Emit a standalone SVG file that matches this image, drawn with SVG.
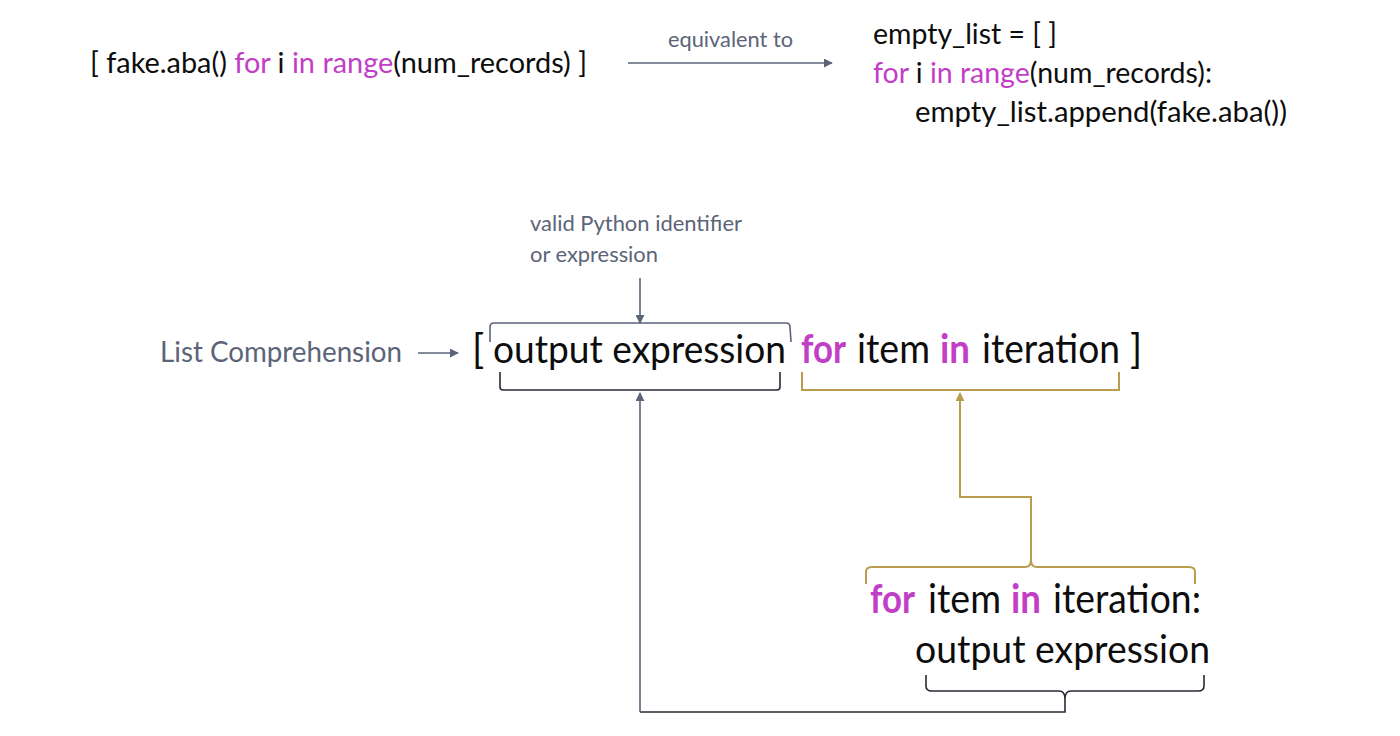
<svg xmlns="http://www.w3.org/2000/svg" width="1400" height="736" viewBox="0 0 1400 736">
<style>
  text { font-family: Lato, "Open Sans", "Liberation Sans", sans-serif; fill: #0d0d0d; }
  .code { font-size: 29px; }
  .main { font-size: 40px; }
  .out { font-size: 38px; }
  .note { font-size: 22px; fill: #5b6478; }
  .label { font-size: 29px; fill: #5b6478; }
  .kw { fill: #c23ec6; }
  .kwb { fill: #c23ec6; font-weight: bold; }
  .gray { fill: none; stroke: #5b6478; stroke-width: 1.6; }
  .dark { fill: none; stroke: #262b36; stroke-width: 1.6; }
  .gold { fill: none; stroke: #b99c4c; stroke-width: 2; }
</style>
<defs>
  <marker id="ag" viewBox="0 0 10 10" refX="9" refY="5" markerWidth="9" markerHeight="9" markerUnits="userSpaceOnUse" orient="auto">
    <path d="M0,0 L10,5 L0,10 z" fill="#5b6478"/>
  </marker>
  <marker id="ay" viewBox="0 0 10 10" refX="9" refY="5" markerWidth="9" markerHeight="9" markerUnits="userSpaceOnUse" orient="auto">
    <path d="M0,0 L10,5 L0,10 z" fill="#b99c4c"/>
  </marker>
</defs>

<g id="top-expression">
  <text class="code" x="90" y="73" textLength="497" lengthAdjust="spacingAndGlyphs">[ fake.aba() <tspan class="kw">for</tspan> i <tspan class="kw">in</tspan> <tspan class="kw">range</tspan>(num_records) ]</text>
</g>

<g id="equivalent-label">
  <text class="note" x="668" y="47" textLength="125" lengthAdjust="spacingAndGlyphs">equivalent to</text>
</g>

<g id="loop-code">
  <text class="code" x="873" y="44" textLength="184" lengthAdjust="spacingAndGlyphs">empty_list = [ ]</text>
  <text class="code" x="873" y="83" textLength="339" lengthAdjust="spacingAndGlyphs"><tspan class="kw">for</tspan> i <tspan class="kw">in</tspan> <tspan class="kw">range</tspan>(num_records):</text>
  <text class="code" x="915" y="122" textLength="372" lengthAdjust="spacingAndGlyphs">empty_list.append(fake.aba())</text>
</g>

<g id="identifier-note">
  <text class="note" x="530" y="231" textLength="212" lengthAdjust="spacingAndGlyphs">valid Python identifier</text>
  <text class="note" x="530" y="262" textLength="128" lengthAdjust="spacingAndGlyphs">or expression</text>
</g>

<g id="list-comprehension-label">
  <text class="label" x="160" y="362" textLength="242" lengthAdjust="spacingAndGlyphs">List Comprehension</text>
</g>

<g id="comprehension-syntax">
  <text class="main" x="472" y="363">[</text>
  <text class="out" x="493" y="363" textLength="293" lengthAdjust="spacingAndGlyphs">output expression</text>
  <text class="main kwb" x="801" y="363" textLength="45" lengthAdjust="spacingAndGlyphs">for</text>
  <text class="main" x="857" y="363" textLength="73" lengthAdjust="spacingAndGlyphs">item</text>
  <text class="main kwb" x="940" y="363" textLength="30" lengthAdjust="spacingAndGlyphs">in</text>
  <text class="main" x="982" y="363" textLength="138" lengthAdjust="spacingAndGlyphs">iteration</text>
  <text class="main" x="1130" y="363">]</text>
</g>

<g id="loop-syntax">
  <text class="main kwb" x="870" y="613" textLength="45" lengthAdjust="spacingAndGlyphs">for</text>
  <text class="main" x="928" y="613" textLength="73" lengthAdjust="spacingAndGlyphs">item</text>
  <text class="main" x="1011" y="613" textLength="30" lengthAdjust="spacingAndGlyphs"><tspan class="kwb">in</tspan></text>
  <text class="main" x="1053" y="613" textLength="148" lengthAdjust="spacingAndGlyphs">iteration:</text>
  <text class="out" x="915" y="663" textLength="295" lengthAdjust="spacingAndGlyphs">output expression</text>
</g>

<g id="connectors">
  <line class="gray" x1="628" y1="63" x2="832" y2="63" marker-end="url(#ag)"/>
  <line class="gray" x1="640" y1="278" x2="640" y2="323" marker-end="url(#ag)"/>
  <line class="gray" x1="418" y1="353" x2="458" y2="353" marker-end="url(#ag)"/>
  <path class="gray" d="M490,342 L490,327 Q490,323 494,323 L786,323 Q790,323 790,327 L791,342"/>
  <path class="dark" d="M500,372 L500,387 Q500,390 503,390 L777,390 Q780,390 780,387 L780,372"/>
  <path class="gold" d="M802,372 L802,390 L1119,390 L1119,372"/>
  <path class="gold" d="M1031,560 L1031,497 L960,497 L960,393" marker-end="url(#ay)"/>
  <path class="gold" d="M866,584 L866,572 Q866,567 872,567 L1025,567 Q1031,567 1031,560 Q1031,567 1037,567 L1189,567 Q1195,567 1195,572 L1195,584"/>
  <path class="dark" d="M926,675 L926,686 Q926,691 932,691 L1059,691 Q1065,691 1065,699 Q1065,691 1071,691 L1198,691 Q1204,691 1204,686 L1204,675"/>
  <path class="dark" d="M1065,699 L1065,712 L640,712"/>
  <line class="gray" x1="640" y1="712" x2="640" y2="393" marker-end="url(#ag)"/>
</g>
</svg>
